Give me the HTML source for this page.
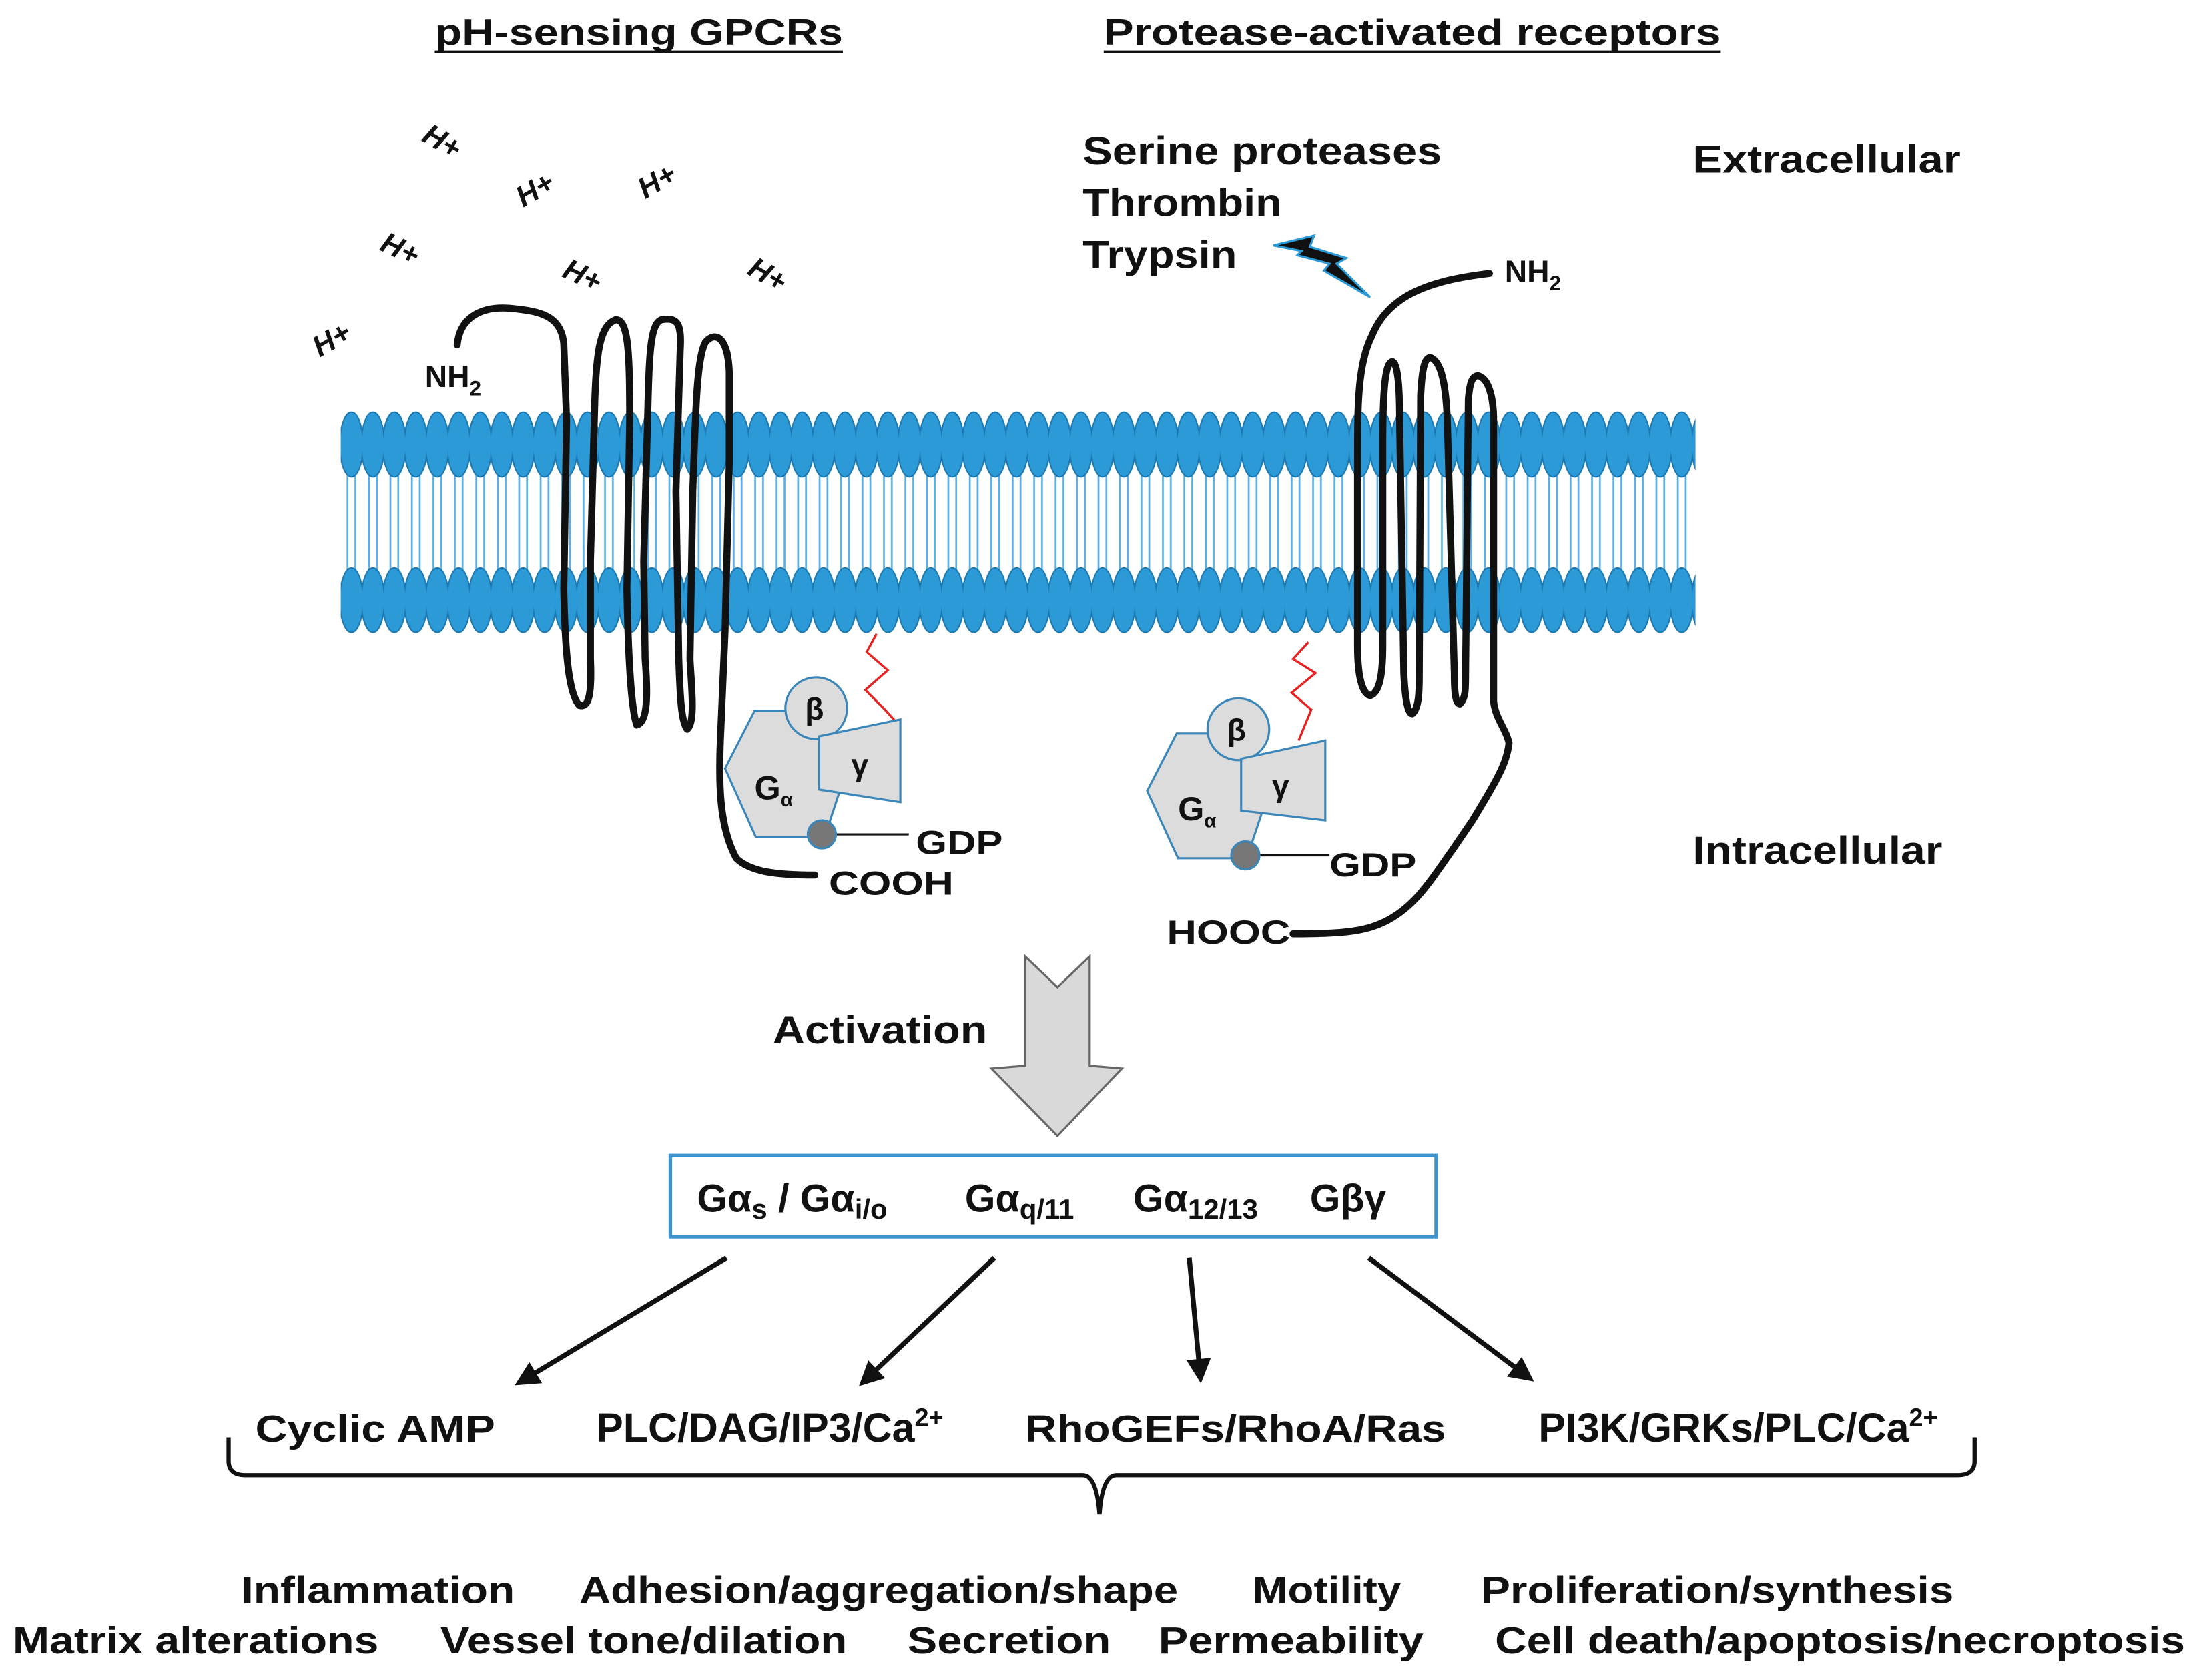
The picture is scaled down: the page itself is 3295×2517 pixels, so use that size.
<!DOCTYPE html>
<html><head><meta charset="utf-8"><style>
html,body{margin:0;padding:0;background:#fff;}
svg{display:block;}
text{font-family:"Liberation Sans",Arial,sans-serif;font-weight:bold;fill:#111;}
</style></head><body>
<svg width="3295" height="2517" viewBox="0 0 1568 1198" preserveAspectRatio="none" xmlns="http://www.w3.org/2000/svg">
<defs>
<pattern id="heads" x="243" y="0" width="15.3" height="1198" patternUnits="userSpaceOnUse">
<line x1="4.8" y1="335" x2="4.8" y2="410" stroke="#5ab0e6" stroke-width="1.3"/>
<line x1="10.4" y1="335" x2="10.4" y2="410" stroke="#5ab0e6" stroke-width="1.3"/>
<ellipse cx="7.6" cy="317" rx="8.3" ry="23" fill="#2b9ad6" stroke="#1b78b0" stroke-width="1"/>
<ellipse cx="7.6" cy="428" rx="8.3" ry="23" fill="#2b9ad6" stroke="#1b78b0" stroke-width="1"/>
</pattern>
<marker id="ah" viewBox="0 0 10 10" refX="8" refY="5" markerWidth="5" markerHeight="5" orient="auto">
<path d="M0,0 L10,5 L0,10 z" fill="#111"/></marker>
</defs>

<!-- titles -->
<text x="310" y="32" font-size="26" textLength="291" lengthAdjust="spacingAndGlyphs">pH-sensing GPCRs</text>
<line x1="310" y1="37" x2="601" y2="37" stroke="#111" stroke-width="2"/>
<text x="787" y="32" font-size="26" textLength="440" lengthAdjust="spacingAndGlyphs">Protease-activated receptors</text>
<line x1="787" y1="37" x2="1227" y2="37" stroke="#111" stroke-width="2"/>

<!-- H+ -->
<g font-size="21" font-style="italic">
<text transform="translate(300,100) rotate(30)">H+</text>
<text transform="translate(373,148) rotate(-30)">H+</text>
<text transform="translate(460,142) rotate(-30)">H+</text>
<text transform="translate(270,178) rotate(25)">H+</text>
<text transform="translate(400,197) rotate(25)">H+</text>
<text transform="translate(532,195) rotate(30)">H+</text>
<text transform="translate(228,255) rotate(-30)">H+</text>
</g>

<text x="772" y="117" font-size="28" textLength="256" lengthAdjust="spacingAndGlyphs">Serine proteases</text>
<text x="772" y="154" font-size="28" textLength="142" lengthAdjust="spacingAndGlyphs">Thrombin</text>
<text x="772" y="191" font-size="28" textLength="110" lengthAdjust="spacingAndGlyphs">Trypsin</text>
<text x="1207" y="123" font-size="28" textLength="191" lengthAdjust="spacingAndGlyphs">Extracellular</text>
<text x="1207" y="616" font-size="28" textLength="178" lengthAdjust="spacingAndGlyphs">Intracellular</text>

<!-- lightning -->
<polygon points="908,175 937,168 934,176 960,184 953,188 977,212 944,193 948,188 925,182 928,179" fill="#111" stroke="#2b9ad6" stroke-width="1.5"/>

<!-- membrane -->
<rect x="243" y="290" width="966" height="165" fill="url(#heads)"/>

<!-- left receptor -->
<path fill="none" stroke="#111" stroke-width="5" stroke-linejoin="round" stroke-linecap="round" d="M326,246 C328,225 345,218 365,220 C385,222 400,225 402,245 L404,300 L402,420 C403,470 406,495 413,503 C420,505 422,495 421,470 L421,400 L424,290 C425,250 428,232 439,228 C448,228 449,250 449,300 L447,420 C448,470 450,505 454,517 C462,515 462,495 460,470 L459,400 L462,290 C463,250 464,230 472,228 C484,226 486,232 485,250 L482,350 L484,470 C485,500 486,515 490,520 C496,515 493,490 492,470 L494,350 C496,290 497,255 503,244 C510,236 519,240 520,265 L520,330 L517,450 L514,520 C512,560 513,590 525,612 C535,622 555,624 581,624"/>
<text x="303" y="276" font-size="22">NH<tspan font-size="15" dy="6">2</tspan></text>

<!-- right receptor -->
<path fill="none" stroke="#111" stroke-width="5" stroke-linejoin="round" stroke-linecap="round" d="M1062,195 C1020,200 990,210 978,240 C968,260 968,290 968,330 L968,460 C968,485 972,495 977,496 C984,494 986,480 986,460 L986,317 C986,275 988,258 993,258 C998,260 998,290 998,300 L1001,480 C1002,500 1004,509 1007,509 C1012,505 1012,492 1012,480 L1013,282 C1014,262 1016,255 1020,255 C1028,258 1031,275 1032,300 L1037,480 C1037,495 1038,502 1041,502 C1045,498 1045,492 1045,480 L1047,285 C1048,272 1050,268 1054,268 C1062,270 1065,285 1065,300 L1065,500 C1066,512 1074,520 1076,530 C1074,545 1068,555 1050,585 L1035,607 C1020,628 1010,645 990,656 C975,664 960,666 922,666"/>
<text x="1073" y="201" font-size="22">NH<tspan font-size="15" dy="6">2</tspan></text>
<text x="832" y="673" font-size="24" textLength="88" lengthAdjust="spacingAndGlyphs">HOOC</text>
<text x="591" y="638" font-size="24" textLength="89" lengthAdjust="spacingAndGlyphs">COOH</text>

<!-- G protein left -->
<g>
<polyline points="625,452 618,465 633,478 617,492 630,505 640,516" fill="none" stroke="#e82020" stroke-width="1.6"/>
<polygon points="517,548 538,507 582,507 604,548 588,597 539,597" fill="#dcdcdc" stroke="#3a86b8" stroke-width="1.5"/>
<circle cx="582" cy="505" r="22" fill="#dcdcdc" stroke="#3a86b8" stroke-width="1.5"/>
<polygon points="584,525 642,513 642,572 584,563" fill="#dcdcdc" stroke="#3a86b8" stroke-width="1.5"/>
<text x="574" y="513" font-size="22" font-weight="normal" font-family="Liberation Serif,serif">β</text>
<text x="607" y="553" font-size="22" font-weight="normal" font-family="Liberation Serif,serif">γ</text>
<text x="538" y="570" font-size="24">G<tspan font-size="14" dy="5">α</tspan></text>
<line x1="595" y1="595" x2="648" y2="595" stroke="#111" stroke-width="1.5"/>
<circle cx="586" cy="595" r="10" fill="#777" stroke="#3a86b8" stroke-width="1.5"/>
<text x="653" y="609" font-size="24" textLength="62" lengthAdjust="spacingAndGlyphs">GDP</text>
</g>
<!-- G protein right -->
<g>
<polyline points="933,458 922,470 938,480 921,494 935,506 926,528" fill="none" stroke="#e82020" stroke-width="1.6"/>
<polygon points="818,564 839,523 883,523 905,564 889,612 840,612" fill="#dcdcdc" stroke="#3a86b8" stroke-width="1.5"/>
<circle cx="883" cy="520" r="22" fill="#dcdcdc" stroke="#3a86b8" stroke-width="1.5"/>
<polygon points="885,541 945,528 945,585 885,578" fill="#dcdcdc" stroke="#3a86b8" stroke-width="1.5"/>
<text x="875" y="528" font-size="22" font-weight="normal" font-family="Liberation Serif,serif">β</text>
<text x="907" y="568" font-size="22" font-weight="normal" font-family="Liberation Serif,serif">γ</text>
<text x="840" y="585" font-size="24">G<tspan font-size="14" dy="5">α</tspan></text>
<line x1="897" y1="610" x2="948" y2="610" stroke="#111" stroke-width="1.5"/>
<circle cx="888" cy="610" r="10" fill="#777" stroke="#3a86b8" stroke-width="1.5"/>
<text x="948" y="625" font-size="24" textLength="62" lengthAdjust="spacingAndGlyphs">GDP</text>
</g>

<!-- activation arrow -->
<polygon points="731,682 754,704 777,682 777,760 800,762 754,810 707,762 731,760" fill="#d9d9d9" stroke="#666" stroke-width="1.5"/>
<text x="551" y="744" font-size="28" textLength="153" lengthAdjust="spacingAndGlyphs">Activation</text>

<!-- box -->
<rect x="478" y="824" width="546" height="58" fill="#fff" stroke="#3d93cc" stroke-width="2.5"/>
<g font-size="28">
<text x="497" y="864">Gα<tspan font-size="20" dy="5">s</tspan><tspan dy="-5"> / Gα</tspan><tspan font-size="20" dy="5">i/o</tspan></text>
<text x="688" y="864">Gα<tspan font-size="20" dy="5">q/11</tspan></text>
<text x="808" y="864">Gα<tspan font-size="20" dy="5">12/13</tspan></text>
<text x="934" y="864">Gβγ</text>
</g>

<!-- arrows -->
<g stroke="#111" stroke-width="3.5" marker-end="url(#ah)">
<line x1="518" y1="897" x2="370" y2="986"/>
<line x1="709" y1="897" x2="615" y2="986"/>
<line x1="848" y1="897" x2="856" y2="983"/>
<line x1="976" y1="897" x2="1091" y2="983"/>
</g>

<g font-size="27">
<text x="182" y="1028" textLength="171" lengthAdjust="spacingAndGlyphs">Cyclic AMP</text>
<text x="425" y="1028" font-size="29">PLC/DAG/IP3/Ca<tspan font-size="18" dy="-11">2+</tspan></text>
<text x="731" y="1028" textLength="300" lengthAdjust="spacingAndGlyphs">RhoGEFs/RhoA/Ras</text>
<text x="1097" y="1028" font-size="29">PI3K/GRKs/PLC/Ca<tspan font-size="18" dy="-11">2+</tspan></text>
</g>

<!-- brace -->
<path d="M163,1025 L163,1042 Q163,1052 175,1052 L772,1052 Q782,1052 784,1080 Q786,1052 796,1052 L1396,1052 Q1408,1052 1408,1042 L1408,1025" fill="none" stroke="#111" stroke-width="3"/>

<g font-size="27">
<text x="172" y="1143" textLength="195" lengthAdjust="spacingAndGlyphs">Inflammation</text>
<text x="413" y="1143" textLength="427" lengthAdjust="spacingAndGlyphs">Adhesion/aggregation/shape</text>
<text x="893" y="1143" textLength="106" lengthAdjust="spacingAndGlyphs">Motility</text>
<text x="1056" y="1143" textLength="337" lengthAdjust="spacingAndGlyphs">Proliferation/synthesis</text>
<text x="9" y="1179" textLength="261" lengthAdjust="spacingAndGlyphs">Matrix alterations</text>
<text x="314" y="1179" textLength="290" lengthAdjust="spacingAndGlyphs">Vessel tone/dilation</text>
<text x="647" y="1179" textLength="145" lengthAdjust="spacingAndGlyphs">Secretion</text>
<text x="826" y="1179" textLength="189" lengthAdjust="spacingAndGlyphs">Permeability</text>
<text x="1066" y="1179" textLength="492" lengthAdjust="spacingAndGlyphs">Cell death/apoptosis/necroptosis</text>
</g>
</svg>
</body></html>
